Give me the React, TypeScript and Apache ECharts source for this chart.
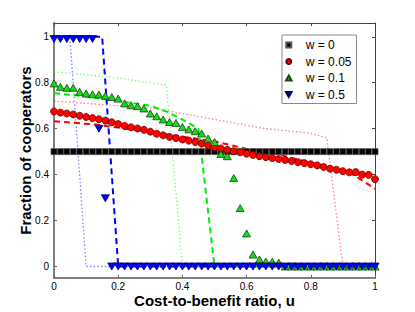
import React, { useEffect, useRef } from "react";
import * as echarts from "echarts";

// Cost-to-benefit ratio grid (simulation points)
const U = [
  0, 0.02, 0.04, 0.06, 0.08, 0.1, 0.12, 0.14, 0.16, 0.18, 0.2, 0.22, 0.24, 0.26, 0.28, 0.3, 0.32,
  0.34, 0.36, 0.38, 0.4, 0.42, 0.44, 0.46, 0.48, 0.5, 0.52, 0.54, 0.56, 0.58, 0.6, 0.62, 0.64,
  0.66, 0.68, 0.7, 0.72, 0.74, 0.76, 0.78, 0.8, 0.82, 0.84, 0.86, 0.88, 0.9, 0.92, 0.94, 0.96,
  0.98, 1,
];

// Simulation markers
const simW0 = [
  0.5, 0.5, 0.5, 0.5, 0.5, 0.5, 0.5, 0.5, 0.5, 0.5, 0.5, 0.5, 0.5, 0.5, 0.5, 0.5, 0.5, 0.5, 0.5,
  0.5, 0.5, 0.5, 0.5, 0.5, 0.5, 0.5, 0.5, 0.5, 0.5, 0.5, 0.5, 0.5, 0.5, 0.5, 0.5, 0.5, 0.5, 0.5,
  0.5, 0.5, 0.5, 0.5, 0.5, 0.5, 0.5, 0.5, 0.5, 0.5, 0.5, 0.5, 0.5,
];
const simW005 = [
  0.675, 0.67, 0.666, 0.662, 0.656, 0.651, 0.646, 0.641, 0.635, 0.628, 0.62, 0.612, 0.606, 0.601,
  0.595, 0.587, 0.578, 0.571, 0.564, 0.559, 0.553, 0.548, 0.542, 0.535, 0.527, 0.52, 0.514, 0.508,
  0.502, 0.497, 0.491, 0.486, 0.48, 0.476, 0.472, 0.468, 0.464, 0.459, 0.454, 0.45, 0.445, 0.44,
  0.433, 0.426, 0.421, 0.415, 0.41, 0.411, 0.4, 0.399, 0.38,
];
const simW01 = [
  0.797, 0.782, 0.778, 0.778, 0.76, 0.753, 0.75, 0.749, 0.743, 0.738, 0.731, 0.71, 0.702, 0.698,
  0.688, 0.666, 0.654, 0.64, 0.629, 0.625, 0.607, 0.597, 0.589, 0.579, 0.557, 0.542, 0.49, 0.48,
  0.385, 0.254, 0.144, 0.052, 0.031, 0.022, 0.021, 0.017, 0, 0, 0, 0, 0, 0, 0, 0, 0, 0, 0, 0, 0,
  0, 0,
];
const simW05 = [
  0.99, 0.99, 0.99, 0.99, 0.99, 0.99, 0.99, 0.6, 0.297, 0, 0, 0, 0, 0, 0, 0, 0, 0, 0, 0, 0, 0, 0,
  0, 0, 0, 0, 0, 0, 0, 0, 0, 0, 0, 0, 0, 0, 0, 0, 0, 0, 0, 0, 0, 0, 0, 0, 0, 0, 0, 0,
];

// Theory curves [u, fraction]
const dashedW005 = [
  [0, 0.632], [0.13, 0.618], [0.3, 0.585], [0.5, 0.545], [0.6, 0.512], [0.66, 0.503],
  [0.76, 0.465], [0.84, 0.44], [0.92, 0.41], [0.96, 0.375], [1, 0.338],
];
const dottedW005 = [
  [0, 0.72], [0.1, 0.71], [0.2, 0.7], [0.3, 0.69], [0.4, 0.666], [0.5, 0.64], [0.6, 0.615],
  [0.66, 0.6], [0.8, 0.58], [0.85, 0.56], [0.9, 0], [1, 0],
];
const dashedW01 = [
  [0, 0.755], [0.1, 0.74], [0.2, 0.72], [0.3, 0.7], [0.35, 0.675], [0.4, 0.64], [0.45, 0.6],
  [0.5, 0], [1, 0],
];
const dottedW01 = [
  [0, 0.848], [0.1, 0.835], [0.2, 0.82], [0.3, 0.8], [0.35, 0.79], [0.4, 0], [1, 0],
];
const dashedW05 = [[0, 1.0], [0.15, 1.0], [0.2, 0], [1, 0]];
const dottedW05 = [[0, 0.99], [0.05, 0.99], [0.1, 0], [1, 0]];

const yTicks = [0, 0.2, 0.4, 0.6, 0.8, 1];
const legendNames = ["w = 0", "w = 0.05", "w = 0.1", "w = 0.5"];

const FONT = "'Liberation Sans', Arial, Helvetica, sans-serif";
const DOWN = "path://M0,0L10,0L5,9Z";
const UP = "path://M5,0L10,9L0,9Z";
const SQUARE = "path://M0,0H10V10H0Z";

export default function App() {
  const ref = useRef<HTMLDivElement>(null);
  useEffect(() => {
    if (!ref.current) return;
    const chart = echarts.init(ref.current, undefined, { renderer: "svg" });
    const pts = (vals: number[]) => U.map((u, i) => [u, vals[i]]);
    const line = (name: string, data: number[][], color: string, dotted: boolean) => ({
      name,
      type: "line",
      data,
      showSymbol: false,
      symbol: "none",
      silent: true,
      z: 2,
      lineStyle: dotted
        ? { color, width: 1.3, type: [1.5, 2.2], opacity: 0.6 }
        : { color, width: 2, type: [6, 4] },
    });
    const scatter = (name: string, data: number[][], symbol: string, size: any, color: string, border: string, z: number) => ({
      name,
      type: "scatter",
      data,
      symbol,
      symbolSize: size,
      clip: false,
      z,
      itemStyle: { color, borderColor: border, borderWidth: 0.8, opacity: 1 },
    });
    const tickLabel = { fontSize: 10, color: "#000", fontFamily: FONT };
    const titleStyle = { fontWeight: "bold", fontSize: 15, color: "#000", fontFamily: FONT };
    chart.setOption({
      animation: false,
      grid: { left: 54, top: 23, width: 321, height: 255, outerBoundsMode: "none", containLabel: false },
      legend: {
        data: [
          { name: legendNames[0], icon: SQUARE },
          { name: legendNames[1], icon: "circle" },
          { name: legendNames[2], icon: UP },
          { name: legendNames[3], icon: DOWN },
        ],
        orient: "vertical",
        left: 282,
        top: 35,
        itemWidth: 24,
        itemHeight: 5,
        itemGap: 4.5,
        padding: [4, 5, 3, 3],
        backgroundColor: "#fff",
        borderColor: "#888",
        borderWidth: 1,
        borderRadius: 0,
        selectedMode: false,
        textStyle: { fontSize: 12, color: "#000", fontFamily: FONT },
      },
      xAxis: [
        {
          type: "value",
          min: 0,
          max: 1,
          interval: 0.2,
          position: "bottom",
          axisLine: { show: true, onZero: false, lineStyle: { color: "#808080", width: 2 } },
          axisTick: { show: true, inside: true, length: 3, lineStyle: { color: "#666" } },
          axisLabel: { ...tickLabel, margin: 3 },
          splitLine: { show: false },
          name: "Cost-to-benefit ratio, u",
          nameLocation: "middle",
          nameGap: 15,
          nameMoveOverlap: false,
          nameTextStyle: titleStyle,
        },
        {
          type: "value",
          min: 0,
          max: 1,
          interval: 0.2,
          position: "top",
          axisLine: { show: true, onZero: false, lineStyle: { color: "#444", width: 1 } },
          axisTick: { show: true, inside: true, length: 3, lineStyle: { color: "#444" } },
          axisLabel: { show: false },
          splitLine: { show: false },
        },
      ],
      yAxis: [
        {
          type: "value",
          min: -0.05,
          max: 1.06,
          position: "left",
          axisLine: { show: true, onZero: false, lineStyle: { color: "#808080", width: 2 } },
          axisTick: { show: true, inside: true, length: 3, customValues: yTicks, lineStyle: { color: "#666" } },
          axisLabel: { ...tickLabel, margin: 5, customValues: yTicks },
          splitLine: { show: false },
          name: "Fraction of cooperators",
          nameLocation: "middle",
          nameGap: 21,
          nameMoveOverlap: false,
          nameTextStyle: titleStyle,
        },
        {
          type: "value",
          min: -0.05,
          max: 1.06,
          position: "right",
          axisLine: { show: true, onZero: false, lineStyle: { color: "#444", width: 1 } },
          axisTick: { show: true, inside: true, length: 3, customValues: yTicks, lineStyle: { color: "#444" } },
          axisLabel: { show: false, customValues: yTicks },
          splitLine: { show: false },
        },
      ],
      series: [
        line("theory dotted 0.05", dottedW005, "#ff3030", true),
        line("theory dotted 0.1", dottedW01, "#20ff20", true),
        line("theory dotted 0.5", dottedW05, "#3030ff", true),
        line("theory dashed 0.05", dashedW005, "#ff0000", false),
        line("theory dashed 0.1", dashedW01, "#00ee00", false),
        line("theory dashed 0.5", dashedW05, "#0000ff", false),
        scatter(legendNames[0], pts(simW0), "rect", 6, "#000", "#555", 3),
        scatter(legendNames[1], pts(simW005), "circle", 7, "#ff0000", "#6b0000", 4),
        scatter(legendNames[2], pts(simW01), "triangle", [8, 7], "#11dd11", "#1f3f1f", 5),
        scatter(legendNames[3], pts(simW05), DOWN, [8, 7], "#0000ff", "#00005a", 6),
      ],
    });
    return () => chart.dispose();
  }, []);
  return (
    <div
      ref={ref}
      style={{ position: "fixed", left: 0, top: 0, width: 415, height: 312, background: "#fff" }}
    />
  );
}
